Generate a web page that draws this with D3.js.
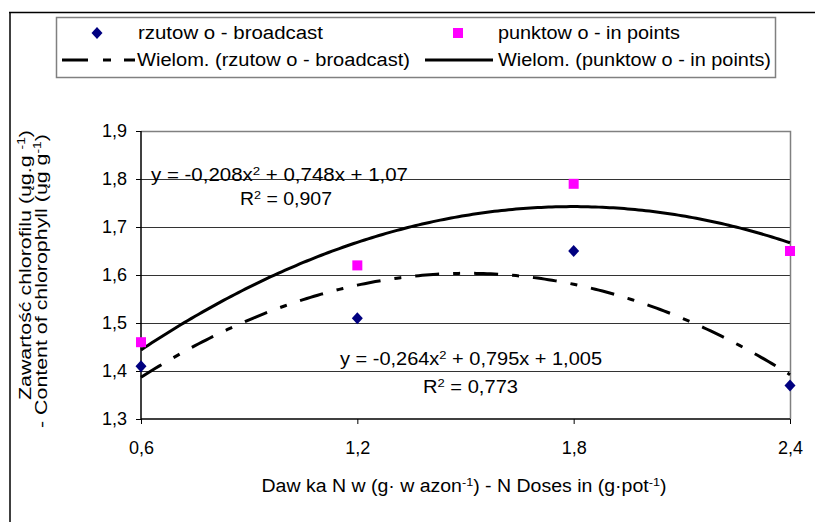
<!DOCTYPE html>
<html><head><meta charset="utf-8">
<script src="https://cdn.jsdelivr.net/npm/d3@7"></script>
<style>body{margin:0;background:#fff}svg{display:block;font-family:Arial,"Liberation Sans",sans-serif}</style>
</head><body><svg id="c" width="815" height="522"></svg>
<script>
// ---- data ----
const doses = [0.6, 1.2, 1.8, 2.4];
const broadcast = [1.41, 1.51, 1.65, 1.37];
const inPoints = [1.46, 1.62, 1.79, 1.65];
const broadcastCoef = [-0.264, 0.795, 1.005];   // trendline: a x^2 + b x + c
const inPointsCoef = [-0.208, 0.748, 1.07];
const yTicks = [1.3, 1.4, 1.5, 1.6, 1.7, 1.8, 1.9];
const xTicks = [0.6, 1.2, 1.8, 2.4];
const legendLabels = ["rzutow o - broadcast", "punktow o - in points",
  "Wielom. (rzutow o - broadcast)", "Wielom. (punktow o - in points)"];

const fmt = d => d.toFixed(1).replace('.', ',');
const svg = d3.select("#c");
const L = 141, R = 790, T = 131, B = 419;
const x = d3.scaleLinear().domain([0.6, 2.4]).range([L, R]);
const y = d3.scaleLinear().domain([1.3, 1.9]).range([B, T]);

// outer frame (left + top visible)
svg.append("line").attr("x1", 10).attr("x2", 10).attr("y1", 12).attr("y2", 522).attr("stroke", "#404040").attr("stroke-width", 2);
svg.append("line").attr("x1", 9).attr("x2", 815).attr("y1", 12.5).attr("y2", 12.5).attr("stroke", "#000").attr("stroke-width", 1.5);

// gridlines
svg.append("g").selectAll("line").data(yTicks.filter(d => d > 1.3 && d < 1.9)).join("line")
  .attr("x1", L).attr("x2", R).attr("y1", d => Math.round(y(d)) + 0.5).attr("y2", d => Math.round(y(d)) + 0.5)
  .attr("stroke", "#333").attr("stroke-width", 1);
// plot border top/right
svg.append("path").attr("d", `M${L},${T + 0.5}H${R + 0.5}V${B}`).attr("fill", "none").attr("stroke", "#808080").attr("stroke-width", 1.5);

// axes
const ya = svg.append("g").attr("transform", `translate(${L},0)`)
  .call(d3.axisLeft(y).tickValues(yTicks).tickSize(5).tickPadding(9).tickFormat(fmt));
const xa = svg.append("g").attr("transform", `translate(0,${B})`)
  .call(d3.axisBottom(x).tickValues(xTicks).tickSize(5).tickPadding(17).tickFormat(fmt));
[ya, xa].forEach(a => {
  a.select(".domain").attr("stroke", "#000").attr("stroke-width", 1.5);
  a.selectAll(".tick line").attr("stroke", "#000");
  a.selectAll("text").attr("font-size", 18).attr("font-family", "Arial, 'Liberation Sans', sans-serif").attr("fill", "#000");
});
ya.select(".domain").attr("d", `M0,${T}V${B}`);
xa.select(".domain").attr("d", `M${L},0H${R}`);

// trendlines
const xs = d3.range(0.6, 2.4001, 0.01);
const poly = c => v => c[0] * v * v + c[1] * v + c[2];
const line = d3.line().x(d => x(d[0])).y(d => y(d[1]));
svg.append("path").datum(xs.map(v => [v, poly(inPointsCoef)(v)])).attr("d", line)
  .attr("fill", "none").attr("stroke", "#000").attr("stroke-width", 3);
svg.append("path").datum(xs.map(v => [v, poly(broadcastCoef)(v)])).attr("d", line)
  .attr("fill", "none").attr("stroke", "#000").attr("stroke-width", 3).attr("stroke-dasharray", "24,14,7,14");

// markers
svg.append("g").selectAll("path").data(doses.map((d, i) => [d, broadcast[i]])).join("path")
  .attr("transform", d => `translate(${x(d[0])},${y(d[1])})`)
  .attr("d", "M0,-6L5.5,0L0,6L-5.5,0Z").attr("fill", "#000080");
svg.append("g").selectAll("rect").data(doses.map((d, i) => [d, inPoints[i]])).join("rect")
  .attr("x", d => x(d[0]) - 5).attr("y", d => y(d[1]) - 5).attr("width", 10).attr("height", 10).attr("fill", "#ff00ff");

// text helper (supports superscripts)
function txt(g, xx, yy, parts, opts = {}) {
  const size = opts.size || 18;
  const t = g.append("text").attr("x", xx).attr("y", yy).attr("font-size", size).attr("fill", "#000");
  if (opts.anchor) t.attr("text-anchor", opts.anchor);
  if (opts.transform) t.attr("transform", opts.transform);
  let pend = 0;
  parts.forEach(p => {
    if (typeof p === "string") {
      const s = t.append("tspan").text(p);
      if (pend) { s.attr("dy", pend); pend = 0; }
    } else {
      t.append("tspan").attr("dy", -6).attr("font-size", size * 0.65).text(p.sup);
      pend = 6;
    }
  });
  if (opts.len) t.attr("textLength", opts.len).attr("lengthAdjust", "spacingAndGlyphs");
  return t;
}

// equations
txt(svg, 151, 181, ["y = -0,208x", {sup: "2"}, " + 0,748x + 1,07"], {size: 18, len: 257});
txt(svg, 240, 205, ["R", {sup: "2"}, " = 0,907"], {size: 18, len: 92});
txt(svg, 340, 365, ["y = -0,264x", {sup: "2"}, " + 0,795x + 1,005"], {size: 18, len: 262});
txt(svg, 423, 393, ["R", {sup: "2"}, " = 0,773"], {size: 18, len: 95});

// axis titles
txt(svg, 464, 492, ["Daw ka N w  (g\u00b7 w azon", {sup: "-1"}, ") - N Doses in (g\u00b7pot", {sup: "-1"}, ")"], {size: 18, anchor: "middle", len: 405});
txt(svg, 0, 0, ["Zawartość chlorofilu (ųg.g ", {sup: "-1"}, ")"], {size: 17, len: 270, transform: "translate(31,400) rotate(-90)"});
txt(svg, 0, 0, ["- Content of chlorophyll (ųg g", {sup: "-1"}, ")"], {size: 17, len: 294, transform: "translate(47,428) rotate(-90)"});

// legend
const lg = svg.append("g");
lg.append("rect").attr("x", 56.5).attr("y", 17.5).attr("width", 719).attr("height", 60).attr("fill", "#fff").attr("stroke", "#808080").attr("stroke-width", 1.5);
lg.append("path").attr("transform", "translate(97,33)").attr("d", "M0,-6L5.5,0L0,6L-5.5,0Z").attr("fill", "#000080");
lg.append("rect").attr("x", 453).attr("y", 28).attr("width", 10).attr("height", 10).attr("fill", "#ff00ff");
lg.append("line").attr("x1", 62).attr("x2", 135).attr("y1", 60).attr("y2", 60).attr("stroke", "#000").attr("stroke-width", 3).attr("stroke-dasharray", "26,15,8,13");
lg.append("line").attr("x1", 425).attr("x2", 493).attr("y1", 60).attr("y2", 60).attr("stroke", "#000").attr("stroke-width", 3);
txt(lg, 138, 39, [legendLabels[0]], {size: 18, len: 185});
txt(lg, 498, 39, [legendLabels[1]], {size: 18, len: 182});
txt(lg, 137, 66, [legendLabels[2]], {size: 18, len: 273});
txt(lg, 498, 66, [legendLabels[3]], {size: 18, len: 273});
</script></body></html>
